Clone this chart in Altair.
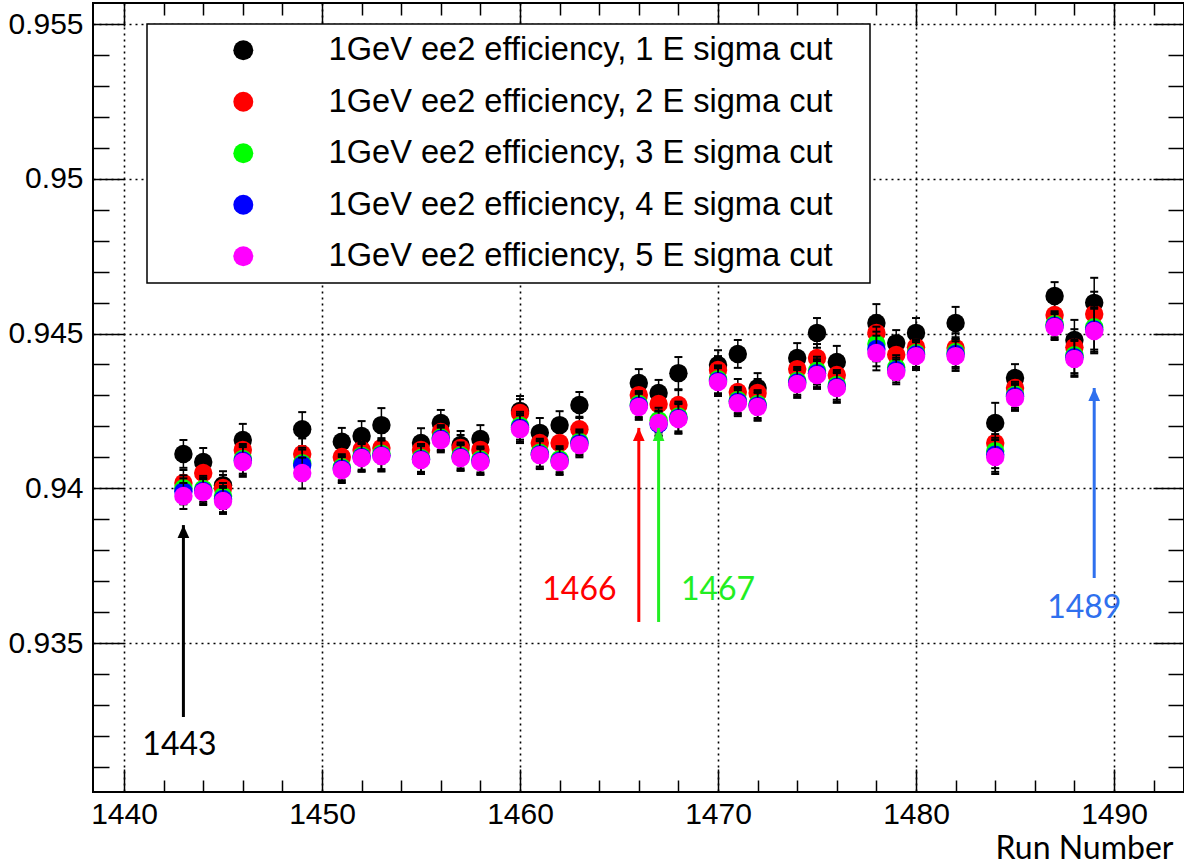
import altair as alt
import pandas as pd

runs = [1443, 1444, 1445, 1446, 1449, 1451, 1452, 1453, 1455, 1456, 1457, 1458,
        1460, 1461, 1462, 1463, 1466, 1467, 1468, 1470, 1471, 1472, 1474, 1475,
        1476, 1478, 1479, 1480, 1482, 1484, 1485, 1487, 1488, 1489]

eff_1 = [0.94111, 0.94085, 0.94010, 0.94156, 0.94191, 0.94150, 0.94169, 0.94204, 0.94146, 0.94211, 0.94140, 0.94159,
         0.94250, 0.94179, 0.94204, 0.94269, 0.94340, 0.94308, 0.94372, 0.94398, 0.94434, 0.94324, 0.94421, 0.94502,
         0.94408, 0.94534, 0.94469, 0.94502, 0.94534, 0.94211, 0.94356, 0.94621, 0.94479, 0.94599]
eff_2 = [0.94017, 0.94049, 0.94001, 0.94124, 0.94111, 0.94101, 0.94124, 0.94130, 0.94124, 0.94182, 0.94130, 0.94124,
         0.94243, 0.94146, 0.94146, 0.94191, 0.94301, 0.94272, 0.94269, 0.94382, 0.94311, 0.94308, 0.94385, 0.94421,
         0.94366, 0.94502, 0.94431, 0.94456, 0.94453, 0.94146, 0.94324, 0.94560, 0.94456, 0.94563]
eff_3 = [0.94000, 0.93998, 0.93975, 0.94095, 0.94081, 0.94068, 0.94105, 0.94112, 0.94098, 0.94164, 0.94106, 0.94093,
         0.94202, 0.94115, 0.94094, 0.94150, 0.94272, 0.94220, 0.94232, 0.94352, 0.94285, 0.94272, 0.94347, 0.94380,
         0.94334, 0.94466, 0.94390, 0.94437, 0.94440, 0.94120, 0.94302, 0.94530, 0.94430, 0.94520]
eff_4 = [0.93990, 0.93992, 0.93965, 0.94090, 0.94075, 0.94063, 0.94101, 0.94107, 0.94094, 0.94160, 0.94101, 0.94088,
         0.94196, 0.94110, 0.94088, 0.94145, 0.94267, 0.94208, 0.94227, 0.94347, 0.94280, 0.94267, 0.94342, 0.94372,
         0.94328, 0.94450, 0.94382, 0.94432, 0.94434, 0.94108, 0.94297, 0.94525, 0.94423, 0.94513]
eff_5 = [0.93975, 0.93988, 0.93959, 0.94085, 0.94049, 0.94059, 0.94098, 0.94104, 0.94091, 0.94156, 0.94098, 0.94085,
         0.94191, 0.94107, 0.94085, 0.94140, 0.94263, 0.94211, 0.94224, 0.94343, 0.94275, 0.94263, 0.94337, 0.94366,
         0.94324, 0.94437, 0.94376, 0.94427, 0.94427, 0.94101, 0.94292, 0.94521, 0.94418, 0.94508]

err_1 = [0.00045, 0.00045, 0.00045, 0.00052, 0.00055, 0.00045, 0.00048, 0.00055, 0.00048, 0.00042, 0.00045, 0.00045,
         0.00048, 0.00048, 0.00045, 0.00042, 0.00045, 0.00042, 0.00052, 0.00048, 0.00045, 0.00048, 0.00048, 0.00048,
         0.00052, 0.00061, 0.00042, 0.00048, 0.00052, 0.00065, 0.00045, 0.00045, 0.00065, 0.00081]
err_other = [0.00042, 0.00042, 0.00042, 0.00048, 0.00050, 0.00042, 0.00045, 0.00050, 0.00045, 0.00040, 0.00042, 0.00042,
             0.00045, 0.00045, 0.00042, 0.00040, 0.00042, 0.00040, 0.00048, 0.00045, 0.00042, 0.00045, 0.00045, 0.00045,
             0.00048, 0.00056, 0.00040, 0.00045, 0.00048, 0.00055, 0.00042, 0.00042, 0.00058, 0.00072]

series_names = ["1GeV ee2 efficiency, 1 E sigma cut",
                "1GeV ee2 efficiency, 2 E sigma cut",
                "1GeV ee2 efficiency, 3 E sigma cut",
                "1GeV ee2 efficiency, 4 E sigma cut",
                "1GeV ee2 efficiency, 5 E sigma cut"]
series_colors = ["#000000", "#ff0000", "#00ff00", "#0000ff", "#ff00ff"]
error_color = "#000000"

arrow_runs = [1443, 1466, 1467, 1489]
arrow_base = [0.93261, 0.93568, 0.93568, 0.93710]
arrow_tip = [0.93881, 0.94195, 0.94195, 0.94324]
arrow_colors = ["#000000", "#ff0000", "#22ee22", "#2f70ee"]
label_text = ["1443", "1466", "1467", "1489"]
label_x = [1442.8, 1463.0, 1470.0, 1488.5]
label_y = [0.93170, 0.93671, 0.93671, 0.93613]

x_major = [1440, 1450, 1460, 1470, 1480, 1490]
x_all = [1440, 1442, 1444, 1446, 1448, 1450, 1452, 1454, 1456, 1458, 1460, 1462, 1464, 1466,
         1468, 1470, 1472, 1474, 1476, 1478, 1480, 1482, 1484, 1486, 1488, 1490, 1492]
y_major = [0.935, 0.94, 0.945, 0.95, 0.955]
y_all = [0.931, 0.932, 0.933, 0.934, 0.935, 0.936, 0.937, 0.938, 0.939, 0.94, 0.941, 0.942,
         0.943, 0.944, 0.945, 0.946, 0.947, 0.948, 0.949, 0.95, 0.951, 0.952, 0.953, 0.954, 0.955]

W, H = 1091, 789

all_vals = [eff_1, eff_2, eff_3, eff_4, eff_5]
all_errs = [err_1, err_other, err_other, err_other, err_other]
rows = []
for name, vals, errs in zip(series_names, all_vals, all_errs):
    for r, v, e in zip(runs, vals, errs):
        rows.append({"series": name, "run": r, "val": v, "lo": v - e, "hi": v + e})
df = pd.DataFrame(rows)

ann = pd.DataFrame({"run": arrow_runs, "base": arrow_base, "tip": arrow_tip, "color": arrow_colors,
                    "text": label_text, "tx": label_x, "ty": label_y})

xs = alt.Scale(domain=[1438.434, 1493.535], nice=False, zero=False)
ys = alt.Scale(domain=[0.930186, 0.955679], nice=False, zero=False)

xtick = {"condition": {"test": "datum.value % 10 === 0", "value": 23}, "value": 12}
ytick = {"condition": {"test": "round(datum.value * 1000) % 5 === 0", "value": 31}, "value": 16}
tick_common = dict(grid=False, labels=False, domain=False, ticks=True, tickColor="black",
                   tickWidth=1.5, title=None)

axA_x = alt.Axis(orient="bottom", values=x_major, grid=True, gridDash=[2, 4], gridColor="black",
                 gridWidth=1.6, gridOpacity=1, ticks=False, tickSize=0, domain=False,
                 labelFont="Liberation Sans", labelFontSize=30, labelColor="black", labelPadding=7,
                 labelFlush=False, format="d",
                 title="Run Number", titleFont="Lato", titleFontSize=32, titleFontWeight="normal",
                 titleX=1080, titleY=66, titleAlign="right", titleBaseline="alphabetic",
                 titleColor="black")
axB_x = alt.Axis(orient="top", offset=-H, values=x_all, tickSize=xtick, **tick_common)
axC_x = alt.Axis(orient="bottom", offset=-H, values=x_all, tickSize=xtick, **tick_common)

axA_y = alt.Axis(orient="left", values=y_major, grid=True, gridDash=[2, 4], gridColor="black",
                 gridWidth=1.6, gridOpacity=1, ticks=False, tickSize=0, domain=False,
                 labelFont="Liberation Sans", labelFontSize=30, labelColor="black", labelPadding=10,
                 labelFlush=False, format="~g", title=None)
axB_y = alt.Axis(orient="right", offset=-W, values=y_all, tickSize=ytick, **tick_common)
axC_y = alt.Axis(orient="left", offset=-W, values=y_all, tickSize=ytick, **tick_common)

legend = alt.Legend(orient="none", legendX=54, legendY=21, title=" ", titleOrient="right",
                    titlePadding=27, titleFontSize=32, titleFont="Liberation Sans",
                    labelFont="Liberation Sans", labelFontSize=32.6, labelColor="black", labelLimit=0,
                    symbolType="circle", symbolSize=400, symbolStrokeWidth=0, symbolOpacity=1,
                    symbolOffset=70, labelOffset=69, rowPadding=18.5, padding=10,
                    strokeColor="black", fillColor="white")

cscale = alt.Scale(domain=series_names, range=series_colors)

layers = []
for i, name in enumerate(series_names):
    base = alt.Chart(df).transform_filter(alt.datum.series == name)
    first = i == 0
    err = base.mark_rule(strokeWidth=1.5, color=error_color).encode(
        x=alt.X("run:Q", scale=xs, axis=axA_x if first else None),
        y=alt.Y("lo:Q", scale=ys, axis=axA_y if first else None),
        y2="hi:Q",
    )
    caps = base.transform_fold(["lo", "hi"], as_=["bound", "bval"]).mark_tick(
        orient="horizontal", size=8, thickness=2, color=error_color, opacity=1
    ).encode(
        x=alt.X("run:Q", scale=xs, axis=axB_x if first else None),
        y=alt.Y("bval:Q", scale=ys, axis=axB_y if first else None),
    )
    pts = base.mark_circle(size=340, opacity=1).encode(
        x=alt.X("run:Q", scale=xs, axis=axC_x if first else None),
        y=alt.Y("val:Q", scale=ys, axis=axC_y if first else None),
        color=alt.Color("series:N", scale=cscale, legend=legend if first else None),
    )
    layers += [err, caps, pts]

ann_base = alt.Chart(ann)
arrows = ann_base.mark_rule(strokeWidth=3).encode(
    x=alt.X("run:Q", scale=xs, axis=None),
    y=alt.Y("base:Q", scale=ys, axis=None),
    y2="tip:Q",
    color=alt.Color("color:N", scale=None, legend=None),
)
heads = ann_base.mark_point(shape="M0,0L-0.45,1L0.45,1Z", size=676, filled=True, opacity=1).encode(
    x=alt.X("run:Q", scale=xs, axis=None),
    y=alt.Y("tip:Q", scale=ys, axis=None),
    color=alt.Color("color:N", scale=None, legend=None),
)
labels = ann_base.mark_text(font="Lato", fontSize=32, align="center", baseline="middle").encode(
    x=alt.X("tx:Q", scale=xs, axis=None),
    y=alt.Y("ty:Q", scale=ys, axis=None),
    text="text:N",
    color=alt.Color("color:N", scale=None, legend=None),
)
layers += [arrows, heads, labels]

chart = alt.layer(*layers).resolve_axis(x="independent", y="independent").properties(
    width=W, height=H,
    autosize=alt.AutoSizeParams(type="none"),
    padding={"left": 93, "top": 3, "right": 0, "bottom": 74},
    background="white",
).configure_view(stroke="black", strokeWidth=2).configure_legend(strokeWidth=1.5)

chart.save("out.html", embed_options={"renderer": "svg", "actions": False})
